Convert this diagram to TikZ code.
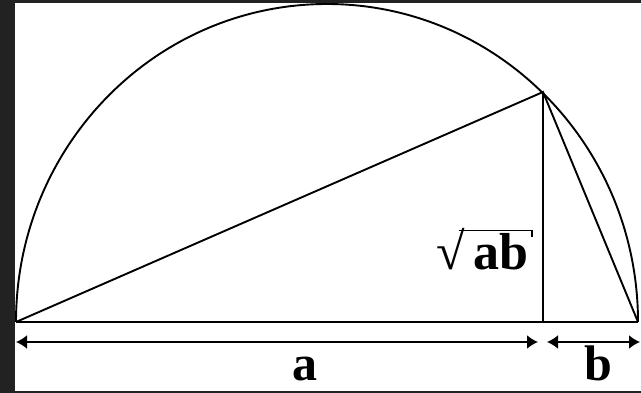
\documentclass[tikz,border=0pt]{standalone}
\usepackage{fontspec}
\setmainfont{Liberation Serif}
\usetikzlibrary{arrows.meta}
\definecolor{frame}{HTML}{222222}
\begin{document}
\begin{tikzpicture}[x=1pt,y=-1pt,
  geo/.style={line width=1.9pt, black},
  dim/.style={line width=1.9pt, {Latex[length=11pt,width=14pt]}-{Latex[length=11pt,width=14pt]}},
  lbl/.style={font=\fontsize{52}{52}\selectfont\bfseries, inner sep=0pt, anchor=base},
  lblb/.style={font=\fontsize{50}{50}\selectfont\bfseries, inner sep=0pt, anchor=base}]
\useasboundingbox (0,0) rectangle (641,393);
\fill[frame] (0,0) rectangle (641,393);
\fill[white] (15,3) rectangle (641,391);
\coordinate (A) at (16,322);
\coordinate (B) at (638,322);
\coordinate (P) at (543,92);
\coordinate (F) at (543,322);
\coordinate (L1) at (16,342);
\coordinate (L2) at (538,342);
\coordinate (R1) at (547,342);
\coordinate (R2) at (640,342);
\draw[geo] (B) arc[start angle=0,end angle=180,x radius=311pt,y radius=318pt];
\draw[geo] (A) -- (B);
\draw[geo] (A) -- (P) -- (B);
\draw[geo] (P) -- (F);
\draw[dim] (L1) -- (L2);
\draw[dim] (R1) -- (R2);
\node[lblb] (la) at (305,381) {a};
\node[lblb] (lb) at (598,381) {b};
\node[lbl, anchor=base west] (lr) at (436,270) {√\,ab};
\coordinate (o1) at (458.5,230.5);
\coordinate (o2) at (532,230.5);
\coordinate (o3) at (532,237);
\draw[line width=1.8pt, black] (o1) -- (o2) -- (o3);
\end{tikzpicture}
\end{document}
